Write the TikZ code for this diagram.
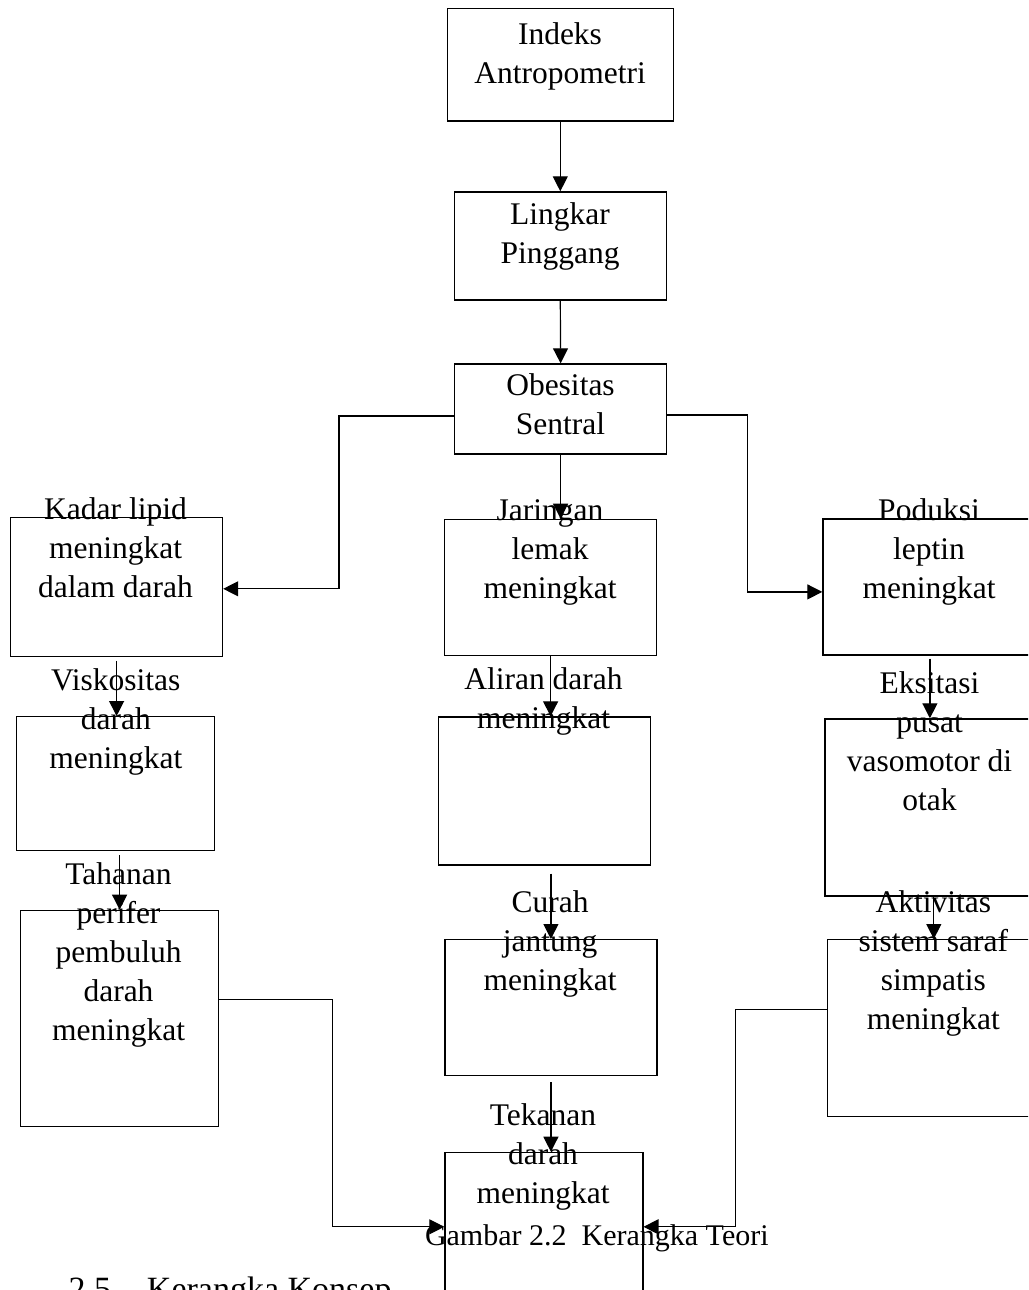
\documentclass[tikz,border=0pt]{standalone}
\usepackage{fontspec}
\setmainfont{Liberation Serif}
\usetikzlibrary{arrows.meta}

\tikzset{
  kotak/.style={draw, line width=1.2pt, inner sep=0pt, anchor=north west},
  teks/.style={font=\fontsize{31.5}{39}\selectfont, align=center, anchor=base, inner sep=0pt},
  panah/.style={line width=1.2pt, -{Triangle[length=15pt,width=15pt]}}
}

\begin{document}
\begin{tikzpicture}[x=1pt,y=-1pt]

\useasboundingbox (0,0) rectangle (1028,1290);
\clip (0,0) rectangle (1028,1290);

% middle
\node[kotak, minimum width=226pt, minimum height=112pt] (indeks) at (446.7,8.3) {};
\node[kotak, minimum width=212pt, minimum height=108pt] (lingkar) at (453.7,191.3) {};
\node[kotak, minimum width=212pt, minimum height=90pt] (obesitas) at (454,363.3) {};
\node[kotak, minimum width=212pt, minimum height=136pt] (lemak) at (444,518.7) {};
\node[kotak, minimum width=212pt, minimum height=148pt] (aliran) at (438,716.3) {};
\node[kotak, minimum width=212pt, minimum height=136pt] (curah) at (444.3,939) {};
\node[kotak, minimum width=198pt, minimum height=149pt] (tekanan) at (444.3,1151.7) {};

% left
\node[kotak, minimum width=212pt, minimum height=139pt] (lipid) at (10,516.7) {};
\node[kotak, minimum width=198pt, minimum height=134pt] (viskositas) at (15.7,716) {};
\node[kotak, minimum width=198pt, minimum height=216pt] (tahanan) at (20,909.7) {};

% right
\node[kotak, minimum width=214pt, minimum height=136pt] (leptin) at (822.3,518.3) {};
\node[kotak, minimum width=211pt, minimum height=177pt] (eksitasi) at (824.3,718.3) {};
\node[kotak, minimum width=213pt, minimum height=177pt] (simpatis) at (826.7,939) {};

% texts (placed at the baseline of the last line)
\node[teks] (tIndeks) at (560,83.3) {Indeks\\Antropometri};
\node[teks] (tLingkar) at (560,263) {Lingkar\\Pinggang};
\node[teks] (tObesitas) at (560.5,434) {Obesitas\\Sentral};
\node[teks] (tLemak) at (550,598) {Jaringan\\lemak\\meningkat};
\node[teks] (tAliran) at (543.5,728) {Aliran darah\\meningkat};
\node[teks] (tCurah) at (550,990) {Curah\\jantung\\meningkat};
\node[teks] (tTekanan) at (543,1203) {Tekanan\\darah\\meningkat};
\node[teks] (tLipid) at (115.5,597) {Kadar lipid\\meningkat\\dalam darah};
\node[teks] (tViskositas) at (115.8,768) {Viskositas\\darah\\meningkat};
\node[teks] (tTahanan) at (118.5,1040) {Tahanan\\perifer\\pembuluh\\darah\\meningkat};
\node[teks] (tLeptin) at (929,598) {Poduksi\\leptin\\meningkat};
\node[teks] (tEksitasi) at (929.5,810) {Eksitasi\\pusat\\vasomotor di\\otak};
\node[teks] (tSimpatis) at (933.3,1029) {Aktivitas\\sistem saraf\\simpatis\\meningkat};

% caption
\node[font=\fontsize{30}{36}\selectfont, anchor=base, inner sep=0pt] (gambar) at (596.8,1245) {Gambar 2.2\hspace{7.5pt} Kerangka Teori};
\node[font=\fontsize{34}{40}\selectfont, anchor=base west, inner sep=0pt] (konsep) at (68.3,1300.5) {2.5\hspace{36pt}Kerangka Konsep};

% arrows
\draw[panah] (indeks.south) -- (lingkar.north);
\draw[panah] (lingkar.south) -- (obesitas.north);
\draw[panah] (obesitas.south) -- (obesitas.south |- lemak.north);
\draw[panah] ([yshift=-7pt]obesitas.west) -- ++(-115,0) |- ([yshift=-2pt]lipid.east);
\draw[panah] ([yshift=-6pt]obesitas.east) -- ++(80,0) |- ([yshift=-5pt]leptin.west);

\draw[panah] (lemak.south) -- (lemak.south |- aliran.north);
\draw[panah] ([yshift=-8pt]aliran.south -| curah.north) -- (curah.north);
\draw[panah] ([yshift=-6pt]curah.south) -- (curah.south |- tekanan.north);

\draw[panah] ([yshift=-4pt]lipid.south) -- (lipid.south |- viskositas.north);
\draw[panah] ([yshift=-4pt]viskositas.south -| tahanan.north) -- (tahanan.north);
\draw[panah] ([yshift=19pt]tahanan.east) -- ++(113,0) |- (tekanan.west);

\draw[panah] ([yshift=-3pt]leptin.south) -- (leptin.south |- eksitasi.north);
\draw[panah] (eksitasi.south -| simpatis.north) -- (simpatis.north);
\draw[panah] ([yshift=19pt]simpatis.west) -- ++(-91,0) |- (tekanan.east);

\end{tikzpicture}
\end{document}
